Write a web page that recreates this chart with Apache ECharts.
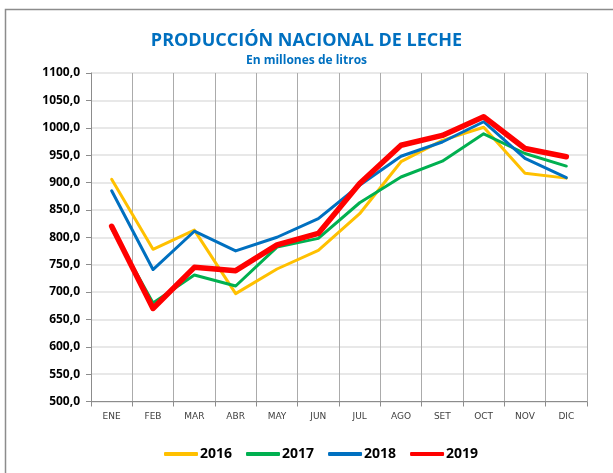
<!DOCTYPE html>
<html lang="es">
<head>
  <meta charset="utf-8">
  <title>Producción nacional de leche</title>
  <script src="https://cdn.jsdelivr.net/npm/echarts@6/dist/echarts.min.js"></script>
  <style type="text/css">
    html, body { margin: 0; padding: 0; background: #fff; }
    #chart { width: 613px; height: 473px; }
  </style>
</head>
<body>
<div id="chart"></div>
<script type="text/javascript">
// datos (millones de litros)
var meses = ['ENE', 'FEB', 'MAR', 'ABR', 'MAY', 'JUN', 'JUL', 'AGO', 'SET', 'OCT', 'NOV', 'DIC'];
var anios = ['2016', '2017', '2018', '2019'];
var d2016 = [906, 778, 813, 697, 742, 776, 843, 938, 977, 1001, 917, 908];
var d2017 = [816, 680, 731, 711, 782, 798, 863, 910, 939, 989, 953, 930];
var d2018 = [885, 741, 811, 775, 800, 834, 895, 948, 974, 1011, 944, 909];
var d2019 = [820, 670, 745, 739, 786, 807, 898, 968, 986, 1020, 962, 947];
var colores = ['#FFC000', '#00B050', '#0070C0', '#FF0000'];
var grosor = [3, 3, 3, 5.5];

var chart = echarts.init(document.getElementById('chart'));

var datos = [d2016, d2017, d2018, d2019];
var series = anios.map(function (a, i) {
    return {
        name: a,
        type: 'line',
        data: datos[i],
        symbol: 'none',
        lineStyle: { color: colores[i], width: grosor[i], cap: 'round', join: 'round' },
        itemStyle: { color: colores[i] }
    };
});

var option = {
    animation: false,
    color: colores,
    title: {
        text: 'PRODUCCIÓN NACIONAL DE LECHE',
        subtext: 'En millones de litros',
        left: 'center',
        top: 27,
        itemGap: 5,
        textStyle: { color: '#0070C0', fontSize: 18, fontWeight: 'bold', fontFamily: 'Open Sans' },
        subtextStyle: { color: '#0070C0', fontSize: 12, fontWeight: 'bold', fontFamily: 'Open Sans' }
    },
    legend: {
        bottom: 7,
        left: 159,
        icon: 'roundRect',
        itemWidth: 34,
        itemHeight: 4,
        itemGap: 14,
        textStyle: { color: '#000', fontSize: 14, fontWeight: 'bold', fontFamily: 'Open Sans', padding: [0, 0, 0, -3] },
        data: anios
    },
    grid: { left: 91, right: 26, top: 73, bottom: 71.5 },
    xAxis: {
        type: 'category',
        data: meses,
        boundaryGap: true,
        axisLine: { lineStyle: { color: '#8c8c8c' } },
        axisTick: { show: true, length: 5, lineStyle: { color: '#8c8c8c' } },
        axisLabel: { color: '#404040', fontSize: 9, margin: 11, fontFamily: 'DejaVu Sans' },
        splitLine: { show: true, lineStyle: { color: '#ababab', width: 1 } }
    },
    yAxis: {
        type: 'value',
        min: 500,
        max: 1100,
        interval: 50,
        axisLine: { show: true, lineStyle: { color: '#8c8c8c' } },
        axisTick: { show: true, length: 5, lineStyle: { color: '#8c8c8c' } },
        axisLabel: {
            color: '#000', fontSize: 12, fontWeight: 'bold', margin: 11, fontFamily: 'Open Sans',
            formatter: function (v) { return v.toFixed(1).replace('.', ','); }
        },
        splitLine: { lineStyle: { color: '#e0e0e0', width: 1.5 } }
    },
    graphic: [{
        type: 'rect',
        silent: true,
        shape: { x: 5.5, y: 9.5, width: 700, height: 600 },
        style: { fill: 'none', stroke: '#8c8c8c', lineWidth: 1.5 }
    }],
    series: series
};

chart.setOption(option);
</script>
</body>
</html>
